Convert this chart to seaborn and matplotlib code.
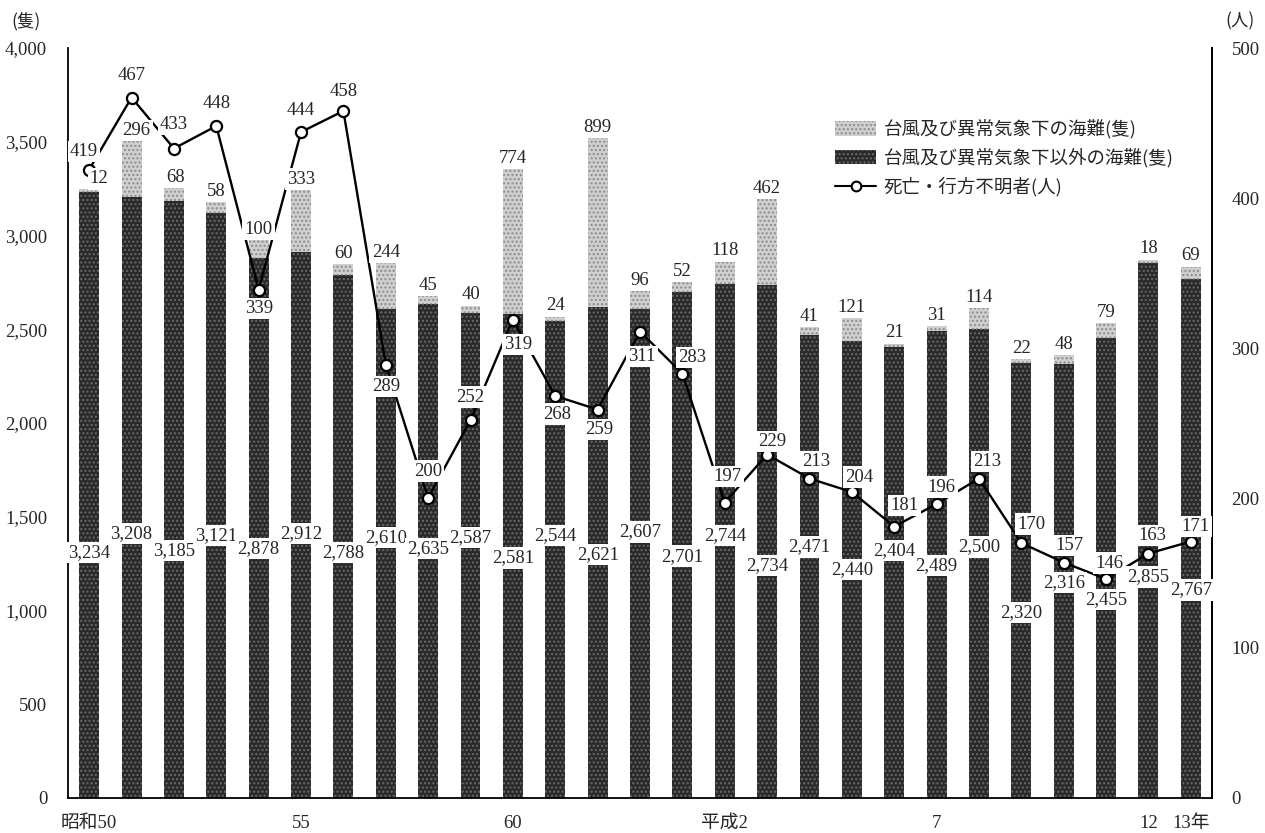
import matplotlib
matplotlib.use("Agg")
import matplotlib.pyplot as plt
import matplotlib.patches as mpatches
from matplotlib.lines import Line2D
import numpy as np
import pandas as pd
import seaborn as sns

# ---------------- data ----------------
year_keys = [str(y) for y in range(1975, 2002)]
xtick_labels = ["昭和50", "", "", "", "", "55", "", "", "", "", "60", "", "", "", "",
                "平成2", "", "", "", "", "7", "", "", "", "", "12", "13年"]
other_wrecks = [3234, 3208, 3185, 3121, 2878, 2912, 2788, 2610, 2635, 2587, 2581, 2544, 2621, 2607,
                2701, 2744, 2734, 2471, 2440, 2404, 2489, 2500, 2320, 2316, 2455, 2855, 2767]
typhoon_wrecks = [12, 296, 68, 58, 100, 333, 60, 244, 45, 40, 774, 24, 899, 96,
                  52, 118, 462, 41, 121, 21, 31, 114, 22, 48, 79, 18, 69]
deaths = [419, 467, 433, 448, 339, 444, 458, 289, 200, 252, 319, 268, 259, 311,
          283, 197, 229, 213, 204, 181, 196, 213, 170, 157, 146, 163, 171]

legend_labels = ["台風及び異常気象下の海難(隻)", "台風及び異常気象下以外の海難(隻)", "死亡・行方不明者(人)"]

# ---------------- layout (label placement only) ----------------
dark_label_y = [1310, 1410, 1320, 1400, 1330, 1410, 1310, 1390, 1330, 1390, 1280, 1400, 1300, 1420,
                1290, 1400, 1240, 1340, 1220, 1320, 1240, 1340, 990, 1150, 1060, 1180, 1110]
death_label_off = [(-5, 18), (0, 22), (0, 24), (0, 23), (0, -19), (0, 22), (0, 20), (0, -22),
                   (0, 27), (0, 23), (5, -25), (2, -18), (2, -20), (2, -25), (10, 16), (3, 26),
                   (5, 13), (7, 17), (7, 15), (10, 21), (5, 17), (8, 17), (10, 19), (6, 17),
                   (3, 16), (4, 18), (5, 15)]
light_label_off = [(10, 2), (5, 2), (2, 2), (0, 2), (0, 2), (0, 2), (0, 2), (0, 2), (0, 2), (0, 2),
                   (0, 2), (0, 2), (0, 2), (0, 2), (0, 2), (0, 2), (0, 2), (0, 2), (0, 2), (0, 2),
                   (0, 2), (0, 2), (0, 2), (0, 2), (0, 2), (0, 2), (0, 2)]

W, H = 1265, 833
sns.set_theme(style="white")
plt.rcParams["font.family"] = ["Liberation Serif", "Noto Sans CJK JP", "DejaVu Sans"]
plt.rcParams["hatch.linewidth"] = 1.0

df = pd.DataFrame({"year": year_keys,
                   "other": other_wrecks,
                   "total": np.array(other_wrecks) + np.array(typhoon_wrecks)})

fig = plt.figure(figsize=(W / 100, H / 100), dpi=100)
ax = fig.add_axes([68 / W, 35 / H, (1212 - 68) / W, 750 / H])

light_fc, light_hc = "#cfcfcf", "#8c8c8c"
dark_fc, dark_hc = "#2a2a2a", "#6a6a6a"

sns.barplot(data=df, x="year", y="total", color=light_fc, saturation=1, width=0.47,
            errorbar=None, hatch="....", edgecolor=light_hc, linewidth=0, ax=ax)
sns.barplot(data=df, x="year", y="other", color=dark_fc, saturation=1, width=0.47,
            errorbar=None, hatch="....", edgecolor=dark_hc, linewidth=0, ax=ax)

ax.set_xlim(-0.5, len(year_keys) - 0.5)
ax.set_ylim(0, 4000)
ax.set_yticks(np.arange(0, 4001, 500))
ax.set_yticklabels([f"{v:,}" for v in range(0, 4001, 500)], fontsize=13.5)
ax.set_xticks(range(len(year_keys)))
ax.set_xticklabels(xtick_labels, fontsize=13.5)
ax.tick_params(axis="y", length=0, pad=15)
ax.tick_params(axis="x", length=0, pad=12)
ax.set_xlabel("")
ax.set_ylabel("")
for s in ["left", "bottom", "right"]:
    ax.spines[s].set_color("black")
    ax.spines[s].set_linewidth(1.3)
ax.spines["top"].set_visible(False)

ax2 = ax.twinx()
xs = np.arange(len(deaths))
sns.lineplot(x=xs, y=deaths, ax=ax2, color="black", linewidth=1.7, marker="o",
             markersize=8, markerfacecolor="white", markeredgecolor="black",
             markeredgewidth=1.6, zorder=3)
ax2.set_ylim(0, 500)
ax2.set_yticks(np.arange(0, 501, 100))
ax2.set_yticklabels([str(v) for v in range(0, 501, 100)], fontsize=13.5)
ax2.tick_params(axis="y", length=0, pad=14)
ax2.set_ylabel("")
ax2.spines["top"].set_visible(False)
ax2.spines["right"].set_color("black")
ax2.spines["right"].set_linewidth(1.3)
ax2.spines["left"].set_visible(False)
ax2.spines["bottom"].set_visible(False)

box = dict(boxstyle="square,pad=0.12", fc="white", ec="none")
FS = 13.5

# dark (other) value labels inside bars
for i, (v, yl) in enumerate(zip(other_wrecks, dark_label_y)):
    ax2.annotate(f"{v:,}", xy=(i, yl), xycoords=ax.transData, ha="center", va="center",
                 fontsize=FS, bbox=box, zorder=6)

# light (typhoon) value labels above bars
for i, (o, t) in enumerate(zip(other_wrecks, typhoon_wrecks)):
    dx, dy = light_label_off[i]
    ax2.annotate(f"{t}", xy=(i, o + t), xycoords=ax.transData, xytext=(dx, dy),
                 textcoords="offset pixels", ha="center", va="bottom", fontsize=FS,
                 bbox=box, zorder=6)

# death labels
for i, v in enumerate(deaths):
    dx, dy = death_label_off[i]
    ax2.annotate(f"{v}", xy=(i, v), xytext=(dx, dy), textcoords="offset pixels",
                 ha="center", va="center", fontsize=FS, bbox=box, zorder=7)

# unit labels
fig.text(26 / W, 1 - 21 / H, "(隻)", ha="center", va="center", fontsize=12.5,
         family=["Noto Sans CJK JP", "DejaVu Sans"])
fig.text(1240 / W, 1 - 21 / H, "(人)", ha="center", va="center", fontsize=12.5,
         family=["Noto Sans CJK JP", "DejaVu Sans"])

# legend
handles = [
    mpatches.Patch(facecolor=light_fc, edgecolor=light_hc, hatch="....", linewidth=0),
    mpatches.Patch(facecolor=dark_fc, edgecolor=dark_hc, hatch="....", linewidth=0),
    Line2D([0], [0], color="black", linewidth=1.5, marker="o", markersize=7,
           markerfacecolor="white", markeredgecolor="black", markeredgewidth=1.5),
]
fig.legend(handles, legend_labels, loc="upper left", bbox_to_anchor=(828 / W, 1 - 112 / H),
           frameon=False, prop={"family": ["Noto Sans CJK JP", "DejaVu Sans"], "size": 13.3},
           handlelength=2.2, handleheight=0.8, handletextpad=0.4, labelspacing=0.5,
           borderaxespad=0)

fig.savefig("out.png", dpi=100, facecolor="white")
